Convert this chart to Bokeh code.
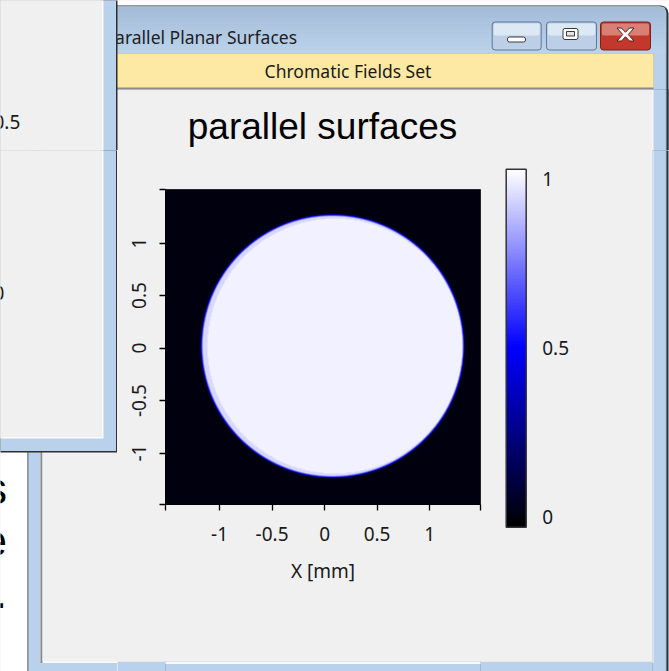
import numpy as np
from bokeh.plotting import figure
from bokeh.layouts import column, row
from bokeh.models import Range1d, LinearColorMapper, ColorBar, FixedTicker
from bokeh.core.properties import value
from bokeh.embed import file_html
from bokeh.resources import INLINE

# ---- chart values -------------------------------------------------------
x_ticks = [-1.0, -0.5, 0.0, 0.5, 1.0]
x_tick_labels = ["-1", "-0.5", "0", "0.5", "1"]
y_ticks = [-1.0, -0.5, 0.0, 0.5, 1.0]
y_tick_labels = ["-1", "-0.5", "0", "0.5", "1"]
cbar_ticks = [0.0, 0.5, 1.0]
cbar_tick_labels = ["0", "0.5", "1"]

# field window (mm) and sampling
x_extent = [-1.515, 1.485]
y_extent = [-1.49, 1.51]
grid_n = 315

# two apertures: the outer disc and the slightly offset second surface
disc_x = [0.0765, 0.099]
disc_y = [0.019, 0.019]
disc_r = [1.2485, 1.226]
disc_level = [0.945, 0.998]
edge_width = 0.025

# colour scale limits
scale_low, scale_high = -0.03, 1.03

# ---- field --------------------------------------------------------------
dx = (x_extent[1] - x_extent[0]) / grid_n
dy = (y_extent[1] - y_extent[0]) / grid_n
xs = x_extent[0] + dx * (np.arange(grid_n) + 0.5)
ys = y_extent[0] + dy * (np.arange(grid_n) + 0.5)
X, Y = np.meshgrid(xs, ys)
field = np.zeros_like(X)
for cx, cy, r, lv in zip(disc_x, disc_y, disc_r, disc_level):
    d = np.hypot(X - cx, Y - cy)
    field = np.maximum(field, lv * np.clip((r - d) / edge_width + 0.5, 0.0, 1.0))

# black -> blue -> white palette
palette = ["#%02x%02x%02x" % (0, 0, int(round(255 * i / 127))) for i in range(128)]
palette += ["#%02x%02x%02x" % (v, v, 255)
            for v in [int(round(255 * i / 127)) for i in range(128)]]
mapper = LinearColorMapper(palette=palette, low=scale_low, high=scale_high)

UI_FONT = "Noto Sans"
TXT = "#1a1a1a"
FRAME_BLUE = "#b9d1ea"
EDGE = "#2f2f2f"
CYAN = "#86c6e8"
CLIENT = "#f0f0f0"
INNER = "#8a8a8a"
LIGHT = "#f9f9f9"

# ---- chart panel (page x 117..652, y 150..660) --------------------------
chart = figure(width=535, height=510, output_backend="svg", toolbar_location=None,
               x_range=Range1d(*x_extent), y_range=Range1d(*y_extent),
               min_border_left=48, min_border_right=172,
               min_border_top=39, min_border_bottom=156)
chart.border_fill_color = CLIENT
chart.background_fill_color = "black"
chart.outline_line_color = "#333333"
chart.grid.visible = False
chart.title.text = ""
chart.title.standoff = 0

chart.image(image=[field], x=x_extent[0], y=y_extent[0],
            dw=x_extent[1] - x_extent[0], dh=y_extent[1] - y_extent[0],
            color_mapper=mapper)

xa = chart.xaxis[0]
xa.ticker = FixedTicker(ticks=[x_extent[0]] + x_ticks + [x_extent[1]])
xa.major_label_overrides = {**dict(zip(x_ticks, x_tick_labels)),
                            x_extent[0]: "", x_extent[1]: ""}
xa.axis_label = "X [mm]"
xa.axis_label_text_font = UI_FONT
xa.axis_label_text_font_style = "normal"
xa.axis_label_text_font_size = "19px"
xa.axis_label_text_color = TXT
xa.axis_label_standoff = 14
xa.major_label_standoff = 16

ya = chart.yaxis[0]
ya.ticker = FixedTicker(ticks=[y_extent[0]] + y_ticks + [y_extent[1]])
ya.major_label_overrides = {**dict(zip(y_ticks, y_tick_labels)),
                            y_extent[0]: "", y_extent[1]: ""}
ya.major_label_orientation = "vertical"
ya.major_label_standoff = 13

for ax in (xa, ya):
    ax.axis_line_color = "black"
    ax.axis_line_width = 1
    ax.major_tick_in = 0
    ax.major_tick_out = 6
    ax.major_tick_line_color = "black"
    ax.major_tick_line_width = 1.3
    ax.minor_tick_line_color = None
    ax.major_label_text_font = UI_FONT
    ax.major_label_text_font_size = "19px"
    ax.major_label_text_color = TXT

cb = ColorBar(color_mapper=mapper, ticker=FixedTicker(ticks=cbar_ticks),
              major_label_overrides=dict(zip(cbar_ticks, cbar_tick_labels)),
              location=(340.7, -22.7), width=20, height=358, padding=0,
              bar_line_color="#333333", bar_line_width=1.5,
              major_tick_line_color=None, minor_tick_line_color=None,
              label_standoff=16, major_label_text_font=UI_FONT,
              major_label_text_font_size="19px", major_label_text_color=TXT,
              background_fill_alpha=0, border_line_color=None)
chart.add_layout(cb, "center")


# ---- window furniture panels (ranges given in page pixels) ---------------
def panel(x0, x1, y0, y1, bg):
    f = figure(width=x1 - x0, height=y1 - y0, output_backend="svg",
               toolbar_location=None, x_axis_location=None, y_axis_location=None,
               x_range=Range1d(x0, x1), y_range=Range1d(y1, y0),
               min_border=0, outline_line_color=None, tools="")
    f.min_border_left = f.min_border_right = 0
    f.min_border_top = f.min_border_bottom = 0
    f.background_fill_color = bg
    f.border_fill_color = bg
    f.grid.visible = False
    return f


def box(f, l, t, r, b, fill, line=None, lw=1, radius=0):
    f.quad(left=l, right=r, top=t, bottom=b, fill_color=fill, line_color=line,
           line_width=lw, border_radius=radius)


def text(f, x, y, s, size, font=UI_FONT, color=TXT, align="left"):
    # y is the vertical middle of the text line
    f.text(x=[x], y=[y], text=[s], text_font=value(font),
           text_font_size=value(size), text_color=color,
           text_align=align, text_baseline="middle")


def client_area(f, y_top):
    # frame edges and client area of the main window below the header band
    box(f, 27, y_top, 668, 680, EDGE)
    box(f, 28, y_top, 666, 680, CYAN)
    box(f, 28, y_top, 665, 680, FRAME_BLUE)
    box(f, 40, y_top, 653, 662.5, LIGHT)
    box(f, 40, y_top, 42, 662.5, INNER)
    box(f, 42, y_top, 651.7, 660.7, CLIENT)


def left_window(f, y_top):
    box(f, -2, y_top, 117, 452, EDGE)
    box(f, -2, y_top, 115.5, 450.5, FRAME_BLUE)
    box(f, -2, y_top, 103, 438, "#fbfbfb")
    box(f, -2, y_top, 101.5, 436.5, CLIENT)


# top strip: caption bar, header band, caption buttons, plot title
top = panel(0, 669, 0, 150, CLIENT)
box(top, -2, -2, 672, 160, "white")
box(top, 27, 5, 668, 160, EDGE, radius=(8, 8, 0, 0))
box(top, 28, 6, 666, 160, CYAN, radius=(7, 7, 0, 0))
box(top, 28, 6, 665, 160, FRAME_BLUE, radius=(7, 7, 0, 0))
top_c, bot_c = np.array([164, 188, 216]), np.array([188, 210, 235])
n_strips = 12
edges = np.linspace(6, 53, n_strips + 1)
for i in range(n_strips):
    c = top_c + (bot_c - top_c) * i / (n_strips - 1)
    box(top, 28, edges[i], 665, edges[i + 1] + 0.5,
        "#%02x%02x%02x" % tuple(int(v) for v in c),
        radius=(0, 4, 0, 0) if i == 0 else 0)
client_area(top, 89)
box(top, 40, 53, 653, 89, INNER)
box(top, 41.5, 53, 653, 87, "#fde9a3")
text(top, 347.5, 70.2, "Chromatic Fields Set", "17.5px", align="center")
text(top, 104, 36.2, "Parallel Planar Surfaces", "17.5px", color="#1e1e1e")
text(top, 322, 126.2, "parallel surfaces", "37px", font="Liberation Sans",
     color="black", align="center")


def button(f, l, r, top_col, bot_col, border):
    box(f, l, 21.5, r, 49.5, bot_col, line=border, lw=1, radius=3)
    box(f, l + 1.5, 23, r - 1.5, 35, top_col, radius=2)


button(top, 491.7, 540.7, "#dde8f5", "#bccfe6", "#5c789b")
button(top, 546, 596, "#dde8f5", "#bccfe6", "#5c789b")
button(top, 600, 650, "#da7f74", "#c2392c", "#6e2620")
box(top, 507, 36.5, 525, 41.5, "white", line="#3a3a3a", lw=1, radius=2)
box(top, 562.5, 28, 577.5, 39, "white", line="#3a3a3a", lw=1, radius=2)
box(top, 566, 31, 574, 35.5, "#e6e6e6", line="#3a3a3a", lw=1)
cx, cy, w, h, t, dd, e = 625, 34, 8.5, 6.5, 4.5, 2.2, 2.8
top.patch(x=[cx - w, cx - w + t, cx, cx + w - t, cx + w, cx + e,
             cx + w, cx + w - t, cx, cx - w + t, cx - w, cx - e],
          y=[cy - h, cy - h, cy - dd, cy - h, cy - h, cy,
             cy + h, cy + h, cy + dd, cy + h, cy + h, cy],
          fill_color="white", line_color="#5a1e1a", line_width=1)
left_window(top, -2)
text(top, -7, 121, "0.5", "19px")

# left strip: overlapping window and the page behind
left = panel(0, 117, 150, 671, CLIENT)
box(left, -2, 140, 130, 680, "white")
client_area(left, 140)
left_window(left, 140)
text(left, -7, 292, "0", "19px")
for ym, s in zip([487.8, 539.8, 591.8], ["s", "e", "."]):
    text(left, 6.5, ym, s, "44px", font="Liberation Sans", color="black",
         align="right")

# bottom edge under the chart
bottom = panel(117, 652, 660, 671, FRAME_BLUE)
client_area(bottom, 650)

# right edge
right = panel(652, 669, 150, 671, FRAME_BLUE)
box(right, 640, 140, 680, 680, "white")
client_area(right, 140)

fill_css = {"background-color": CLIENT}
chart_col = column(chart, bottom, spacing=0, styles=fill_css)
mid_row = row(left, chart_col, right, spacing=0, styles=fill_css)
layout = column(top, mid_row, spacing=0, styles=fill_css)

open("out.html", "w").write(file_html(layout, INLINE))
